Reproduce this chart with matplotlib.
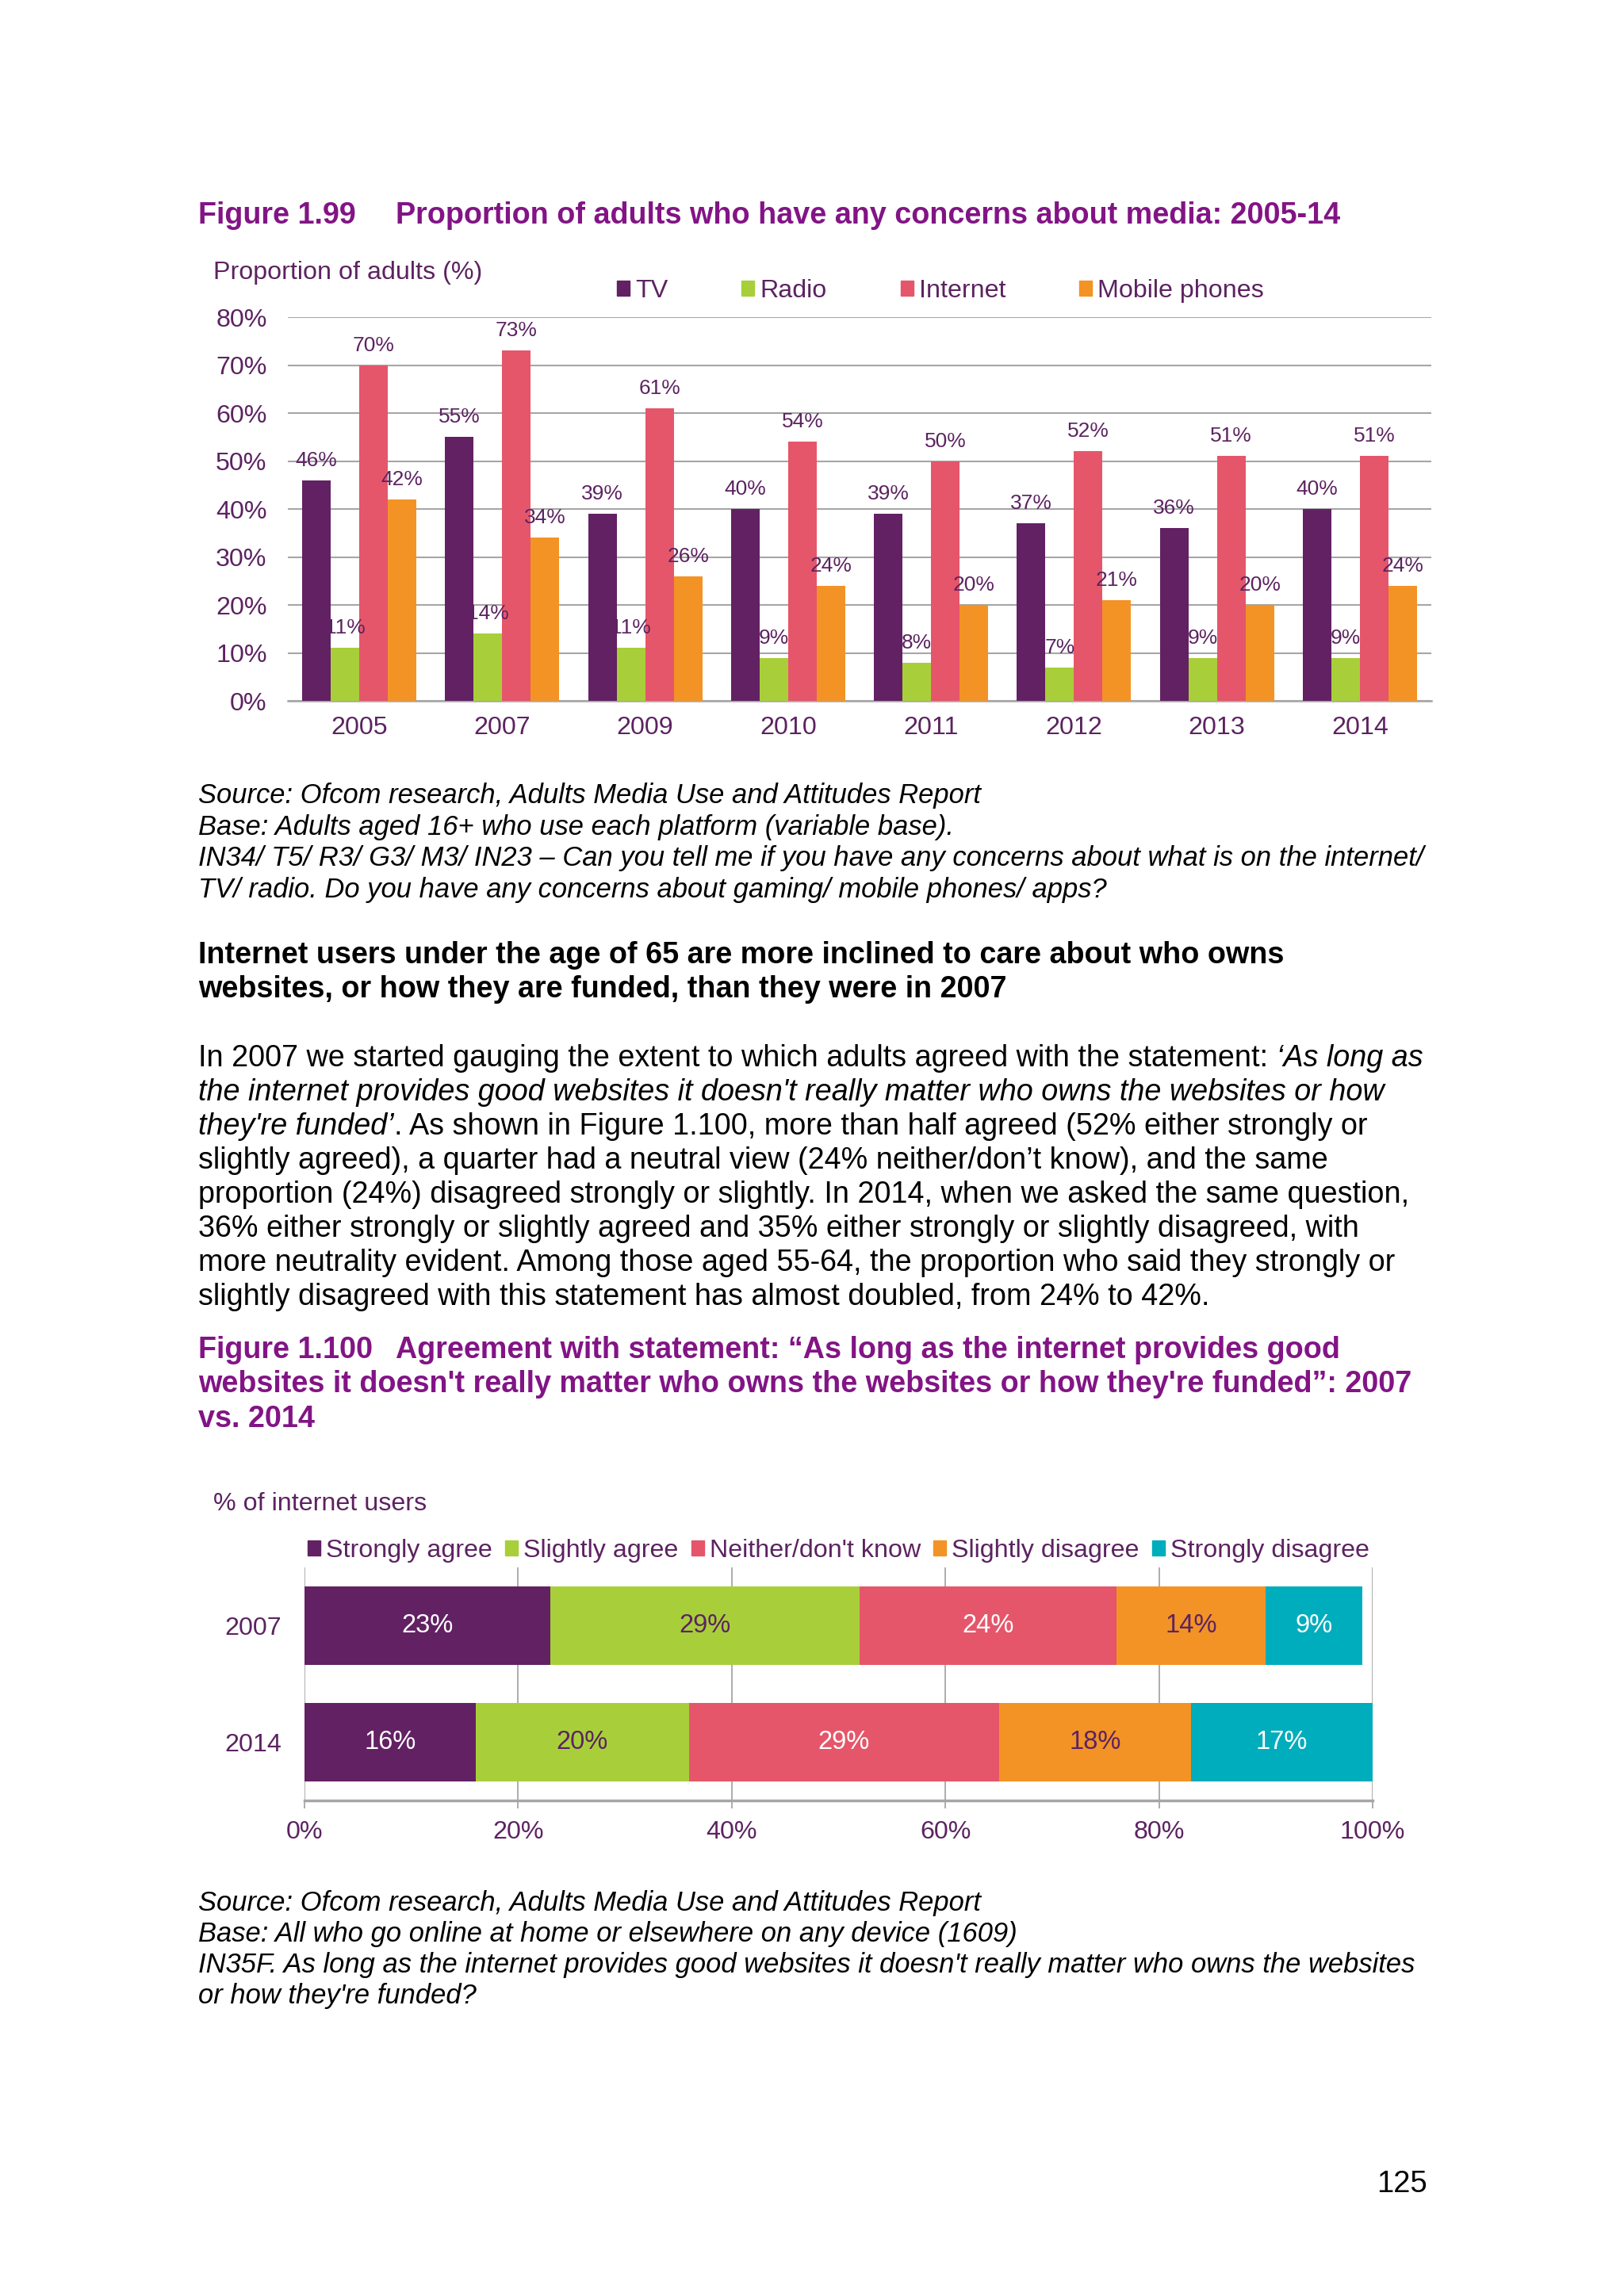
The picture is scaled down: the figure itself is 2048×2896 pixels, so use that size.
import matplotlib
matplotlib.use('Agg')
import matplotlib.pyplot as plt
from matplotlib.patches import Patch
import numpy as np

plt.rcParams['font.family'] = ['Liberation Sans', 'DejaVu Sans']

# ---------------- data ----------------
years = ['2005', '2007', '2009', '2010', '2011', '2012', '2013', '2014']
series_names = ['TV', 'Radio', 'Internet', 'Mobile phones']
tv = [46, 55, 39, 40, 39, 37, 36, 40]
radio = [11, 14, 11, 9, 8, 7, 9, 9]
internet = [70, 73, 61, 54, 50, 52, 51, 51]
mobile = [42, 34, 26, 24, 20, 21, 20, 24]

stack_years = ['2007', '2014']
stack_names = ['Strongly agree', 'Slightly agree', "Neither/don't know",
               'Slightly disagree', 'Strongly disagree']
strongly_agree = [23, 16]
slightly_agree = [29, 20]
neither = [24, 29]
slightly_disagree = [14, 18]
strongly_disagree = [9, 17]

# ---------------- style ----------------
PURPLE = '#622163'
GREEN = '#a8cf3a'
RED = '#e5566a'
ORANGE = '#f39325'
TEAL = '#00adbc'
TXT = '#5c2361'
TITLE = '#821485'
GRID = '#a6a6a6'

FS_TITLE = 27.2
FS_SRC = 24.85
FS_BODY = 27.2
FS_CHART = 23.2

W, H = 2048, 2896
DPI = 100
fig = plt.figure(figsize=(W / DPI, H / DPI), dpi=DPI)
fig.patch.set_facecolor('white')


def fx(x):
    return x / W


def fy(y):
    return 1 - y / H


def put(x, y, s, **kw):
    return fig.text(fx(x), fy(y), s, va='baseline', **kw)


renderer = fig.canvas.get_renderer()


def put_runs(x, y, runs, size, color='black'):
    # draw a line made of normal / italic pieces one after another
    for s, style in runs:
        t = put(x, y, s, fontsize=size, style=style, color=color)
        x = t.get_window_extent(renderer).x1


# ---------------- Figure 1.99 ----------------
put(250, 282, 'Figure 1.99', fontsize=FS_TITLE, weight='bold', color=TITLE)
put(499, 282, 'Proportion of adults who have any concerns about media: 2005-14',
    fontsize=FS_TITLE, weight='bold', color=TITLE)
put(269, 352, 'Proportion of adults (%)', fontsize=FS_CHART, color=TXT)

ax = fig.add_axes([fx(363), fy(884), fx(1805 - 363), (884 - 400) / H])
x = np.arange(len(years))
w = 0.2
for i, (vals, col, name) in enumerate(zip([tv, radio, internet, mobile],
                                          [PURPLE, GREEN, RED, ORANGE],
                                          series_names)):
    bars = ax.bar(x + (i - 1.5) * w, vals, w, color=col, label=name, zorder=3)
    for b, v in zip(bars, vals):
        ax.annotate(f'{v}%', (b.get_x() + b.get_width() / 2, v),
                    xytext=(0, 18), textcoords='offset points',
                    ha='center', va='center', fontsize=19, color=TXT, zorder=4)

ax.set_xlim(-0.5, len(years) - 0.5)
ax.set_ylim(0, 80)
ax.set_yticks(range(0, 81, 10))
ax.set_yticklabels([f'{v}%' for v in range(0, 81, 10)])
ax.set_xticks(x)
ax.set_xticklabels(years)
ax.yaxis.grid(True, color=GRID, lw=1.5, zorder=0)
ax.set_axisbelow(True)
for s in ['top', 'right', 'left']:
    ax.spines[s].set_visible(False)
ax.spines['bottom'].set_color(GRID)
ax.spines['bottom'].set_linewidth(1.8)
ax.tick_params(axis='y', length=0, pad=19, labelsize=FS_CHART, labelcolor=TXT)
ax.tick_params(axis='x', length=0, pad=14, labelsize=FS_CHART, labelcolor=TXT)

handles = [Patch(color=c) for c in [PURPLE, GREEN, RED, ORANGE]]
ax.legend(handles, series_names, loc='center left',
          bbox_to_anchor=(fx(778), fy(367)), bbox_transform=fig.transFigure,
          ncol=4, frameon=False, fontsize=FS_CHART, labelcolor=TXT,
          handlelength=0.5, handleheight=0.5, handletextpad=0.22,
          columnspacing=2.88, borderpad=0, borderaxespad=0)

src1 = [
    'Source: Ofcom research, Adults Media Use and Attitudes Report',
    'Base: Adults aged 16+ who use each platform (variable base).',
    'IN34/ T5/ R3/ G3/ M3/ IN23 \u2013 Can you tell me if you have any concerns about what is on the internet/',
    'TV/ radio. Do you have any concerns about gaming/ mobile phones/ apps?',
]
for i, line in enumerate(src1):
    put(250, 1013 + 39.6 * i, line, fontsize=FS_SRC, style='italic')

# ---------------- body text ----------------
heading = [
    'Internet users under the age of 65 are more inclined to care about who owns',
    'websites, or how they are funded, than they were in 2007',
]
for i, line in enumerate(heading):
    put(250, 1215 + 43 * i, line, fontsize=FS_TITLE, weight='bold')

para = [
    [('In 2007 we started gauging the extent to which adults agreed with the statement: ', 'normal'),
     ('\u2018As long as', 'italic')],
    [("the internet provides good websites it doesn't really matter who owns the websites or how", 'italic')],
    [("they're funded\u2019", 'italic'),
     ('. As shown in Figure 1.100, more than half agreed (52% either strongly or', 'normal')],
    [('slightly agreed), a quarter had a neutral view (24% neither/don\u2019t know), and the same', 'normal')],
    [('proportion (24%) disagreed strongly or slightly. In 2014, when we asked the same question,', 'normal')],
    [('36% either strongly or slightly agreed and 35% either strongly or slightly disagreed, with', 'normal')],
    [('more neutrality evident. Among those aged 55-64, the proportion who said they strongly or', 'normal')],
    [('slightly disagreed with this statement has almost doubled, from 24% to 42%.', 'normal')],
]
for i, runs in enumerate(para):
    put_runs(250, 1345 + 43 * i, runs, FS_BODY)

# ---------------- Figure 1.100 ----------------
put(250, 1713, 'Figure 1.100', fontsize=FS_TITLE, weight='bold', color=TITLE)
put(499, 1713, 'Agreement with statement: \u201cAs long as the internet provides good',
    fontsize=FS_TITLE, weight='bold', color=TITLE)
put(250, 1756, "websites it doesn't really matter who owns the websites or how they're funded\u201d: 2007",
    fontsize=FS_TITLE, weight='bold', color=TITLE)
put(250, 1800, 'vs. 2014', fontsize=FS_TITLE, weight='bold', color=TITLE)

put(269, 1905, '% of internet users', fontsize=FS_CHART, color=TXT)

ax2 = fig.add_axes([fx(384), fy(2271), fx(1731 - 384), (2271 - 1977) / H])
y = np.arange(len(stack_years))
left = np.zeros(len(stack_years))
stack_cols = [PURPLE, GREEN, RED, ORANGE, TEAL]
label_cols = ['white', TXT, 'white', TXT, 'white']
for vals, col, lc, name in zip([strongly_agree, slightly_agree, neither,
                                slightly_disagree, strongly_disagree],
                               stack_cols, label_cols, stack_names):
    bars = ax2.barh(y, vals, 0.667, left=left, color=col, label=name, zorder=3)
    for b, v in zip(bars, vals):
        ax2.text(b.get_x() + b.get_width() / 2, b.get_y() + b.get_height() / 2,
                 f'{v}%', ha='center', va='center', fontsize=23.5, color=lc, zorder=4)
    left += np.array(vals)

ax2.set_xlim(0, 100)
ax2.set_ylim(len(stack_years) - 0.5, -0.5)
ax2.set_xticks(range(0, 101, 20))
ax2.set_xticklabels([f'{v}%' for v in range(0, 101, 20)])
ax2.set_yticks(y)
ax2.set_yticklabels(stack_years)
ax2.xaxis.grid(True, color=GRID, lw=1.3, zorder=0)
ax2.set_axisbelow(True)
for s in ['top', 'right', 'left']:
    ax2.spines[s].set_visible(False)
ax2.spines['bottom'].set_color(GRID)
ax2.spines['bottom'].set_linewidth(2.5)
ax2.tick_params(axis='x', length=7, width=1.3, color=GRID, pad=11,
                labelsize=FS_CHART, labelcolor=TXT)
ax2.tick_params(axis='y', length=0, pad=21, labelsize=FS_CHART, labelcolor=TXT)

handles2 = [Patch(color=c) for c in stack_cols]
ax2.legend(handles2, stack_names, loc='center left',
           bbox_to_anchor=(fx(388), fy(1956)), bbox_transform=fig.transFigure,
           ncol=5, frameon=False, fontsize=FS_CHART, labelcolor=TXT,
           handlelength=0.5, handleheight=0.5, handletextpad=0.22,
           columnspacing=0.5, borderpad=0, borderaxespad=0)

src2 = [
    'Source: Ofcom research, Adults Media Use and Attitudes Report',
    'Base: All who go online at home or elsewhere on any device (1609)',
    "IN35F. As long as the internet provides good websites it doesn't really matter who owns the websites",
    "or how they're funded?",
]
for i, line in enumerate(src2):
    put(250, 2410 + 39 * i, line, fontsize=FS_SRC, style='italic')

fig.text(fx(1800), fy(2765), '125', ha='right', va='baseline', fontsize=27.5)

fig.savefig('out.png', dpi=DPI, facecolor='white')
